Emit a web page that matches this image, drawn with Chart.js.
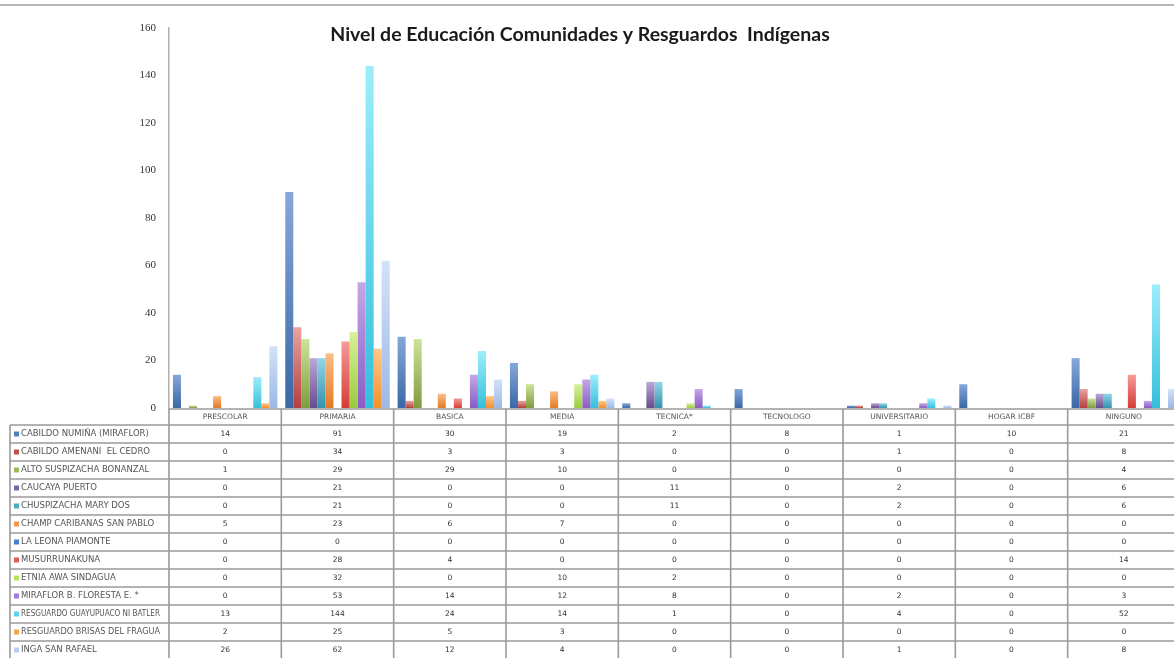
<!DOCTYPE html>
<html>
<head>
<meta charset="utf-8">
<script src="https://cdn.jsdelivr.net/npm/chart.js@4.4.1/dist/chart.umd.min.js"></script>
<style>
html,body{margin:0;padding:0;background:#fff;overflow:hidden;}
#wrap{position:absolute;left:0;top:0;width:1180px;height:658px;}
</style>
</head>
<body>
<div id="wrap"><canvas id="c" width="1180" height="658"></canvas></div>
<script>
// ---- data ----
const categories = ["PRESCOLAR","PRIMARIA","BASICA","MEDIA","TECNICA*","TECNOLOGO","UNIVERSITARIO","HOGAR ICBF","NINGUNO"];
const seriesNames = [
  "CABILDO NUMIÑA (MIRAFLOR)",
  "CABILDO AMENANI  EL CEDRO",
  "ALTO SUSPIZACHA BONANZAL",
  "CAUCAYA PUERTO",
  "CHUSPIZACHA MARY DOS",
  "CHAMP CARIBANAS SAN PABLO",
  "LA LEONA PIAMONTE",
  "MUSURRUNAKUNA",
  "ETNIA AWA SINDAGUA",
  "MIRAFLOR B. FLORESTA E. *",
  "RESGUARDO GUAYUPUACO NI BATLER",
  "RESGUARDO BRISAS DEL FRAGUA",
  "INGA SAN RAFAEL"
];
const cabildoMiraflor   = [14, 91, 30, 19, 2, 8, 1, 10, 21];
const cabildoElCedro    = [0, 34, 3, 3, 0, 0, 1, 0, 8];
const altoSuspizacha    = [1, 29, 29, 10, 0, 0, 0, 0, 4];
const caucayaPuerto     = [0, 21, 0, 0, 11, 0, 2, 0, 6];
const chuspizacha       = [0, 21, 0, 0, 11, 0, 2, 0, 6];
const champCaribanas    = [5, 23, 6, 7, 0, 0, 0, 0, 0];
const laLeona           = [0, 0, 0, 0, 0, 0, 0, 0, 0];
const musurrunakuna     = [0, 28, 4, 0, 0, 0, 0, 0, 14];
const etniaAwa          = [0, 32, 0, 10, 2, 0, 0, 0, 0];
const mirafloRFloresta  = [0, 53, 14, 12, 8, 0, 2, 0, 3];
const guayupuaco        = [13, 144, 24, 14, 1, 0, 4, 0, 52];
const brisasFragua      = [2, 25, 5, 3, 0, 0, 0, 0, 0];
const ingaSanRafael     = [26, 62, 12, 4, 0, 0, 1, 0, 8];
const yTicks = [0, 20, 40, 60, 80, 100, 120, 140, 160];
const chartTitle = "Nivel de Educación Comunidades y Resguardos  Indígenas";

const seriesValues = [cabildoMiraflor, cabildoElCedro, altoSuspizacha, caucayaPuerto, chuspizacha,
  champCaribanas, laLeona, musurrunakuna, etniaAwa, mirafloRFloresta, guayupuaco, brisasFragua, ingaSanRafael];

// ---- styles ----
const palette = [
  ["#86a8da","#3a67a6","#4F81BD"],
  ["#eba3a1","#b23f3b","#C0504D"],
  ["#cde39a","#7e9c3f","#9BBB59"],
  ["#bba9d6","#654c8c","#8064A2"],
  ["#92d6e8","#3592ad","#4BACC6"],
  ["#fbbd85","#e27a24","#F79646"],
  ["#7fa6e0","#3a6cc0","#4a7fd0"],
  ["#f59a98","#d63c38","#e45a57"],
  ["#d8f19a","#99cc3f","#b5e35a"],
  ["#c4a8e6","#8a5cc4","#a07ad8"],
  ["#9ceefc","#36bedb","#5fd4ef"],
  ["#ffc78a","#f5902c","#f9a04a"],
  ["#d3e2f8","#9cb9e6","#b7cdf2"]
];

function gradFor(idx){
  return function(ctx){
    const chart = ctx.chart;
    const base = palette[idx][2];
    if (!chart.chartArea || ctx.type !== 'data' || !chart.scales.y) return base;
    const v = ctx.raw || 0;
    const top = chart.scales.y.getPixelForValue(v);
    const bottom = chart.scales.y.getPixelForValue(0);
    if (bottom - top < 1) return base;
    const g = chart.ctx.createLinearGradient(0, top, 0, bottom);
    g.addColorStop(0, palette[idx][0]);
    g.addColorStop(1, palette[idx][1]);
    return g;
  };
}

const datasets = seriesValues.map((vals, i) => ({
  label: seriesNames[i],
  data: vals,
  backgroundColor: gradFor(i),
  borderWidth: 0,
  categoryPercentage: 0.93,
  barPercentage: 1.0
}));

const TABLE_TOP = 409, HEADER_H = 16, ROW_H = 18, LEFT_X = 10;

const decorPlugin = {
  id: 'decor',
  afterDraw(chart){
    const ctx = chart.ctx;
    const x = chart.scales.x;
    const area = chart.chartArea;
    const colW = (area.right - area.left) / categories.length;
    ctx.save();
    // top rule
    ctx.strokeStyle = '#b8b8b8';
    ctx.lineWidth = 2;
    ctx.beginPath(); ctx.moveTo(0, 5); ctx.lineTo(chart.width, 5); ctx.stroke();

    // title
    ctx.fillStyle = '#1a1a1a';
    ctx.font = 'bold 19.5px Lato, "Open Sans", sans-serif';
    ctx.textAlign = 'center';
    ctx.textBaseline = 'middle';
    ctx.fillText(chartTitle, 580, 35);

    // table lines
    const nRows = seriesNames.length;
    const rowTop0 = TABLE_TOP + HEADER_H;
    const bottomY = rowTop0 + nRows * ROW_H;
    ctx.strokeStyle = '#9a9a9a';
    ctx.lineWidth = 1.6;
    ctx.beginPath();
    ctx.moveTo(area.left, TABLE_TOP); ctx.lineTo(chart.width, TABLE_TOP);
    for (let r = 0; r <= nRows; r++) {
      const yy = rowTop0 + r * ROW_H;
      ctx.moveTo(LEFT_X, yy); ctx.lineTo(chart.width, yy);
    }
    ctx.moveTo(LEFT_X, rowTop0); ctx.lineTo(LEFT_X, bottomY);
    for (let k = 0; k <= categories.length; k++) {
      const xx = area.left + k * colW;
      ctx.moveTo(xx, TABLE_TOP); ctx.lineTo(xx, bottomY);
    }
    ctx.stroke();

    // header labels
    ctx.fillStyle = '#555';
    ctx.font = '7.5px "DejaVu Sans", sans-serif';
    ctx.textAlign = 'center';
    ctx.textBaseline = 'middle';
    categories.forEach((c, k) => {
      ctx.fillText(c, x.getPixelForValue(k), TABLE_TOP + HEADER_H / 2);
    });

    // rows
    seriesNames.forEach((name, r) => {
      const cy = rowTop0 + r * ROW_H + ROW_H / 2;
      ctx.fillStyle = palette[r][2];
      ctx.fillRect(LEFT_X + 4, cy - 2.5, 5, 5);
      ctx.fillStyle = '#555';
      ctx.font = '8.5px "DejaVu Sans", sans-serif';
      ctx.textAlign = 'left';
      ctx.fillText(name, LEFT_X + 11, cy, area.left - LEFT_X - 20);
      ctx.fillStyle = '#333';
      ctx.font = '7.5px "DejaVu Sans", sans-serif';
      ctx.textAlign = 'center';
      seriesValues[r].forEach((v, k) => {
        ctx.fillText(String(v), x.getPixelForValue(k), cy);
      });
    });
    ctx.restore();
  }
};

new Chart(document.getElementById('c'), {
  type: 'bar',
  data: { labels: categories, datasets },
  options: {
    responsive: false,
    animation: false,
    devicePixelRatio: 1,
    layout: { padding: { top: 28, bottom: 250, left: 0, right: 0 } },
    plugins: { legend: { display: false }, title: { display: false }, tooltip: { enabled: false } },
    scales: {
      x: { display: false, grid: { display: false } },
      y: {
        min: 0, max: 160,
        afterBuildTicks(scale){ scale.ticks = yTicks.map(v => ({ value: v })); },
        afterFit(scale){ scale.width = 169; },
        grid: { display: false, drawTicks: false },
        border: { display: true, color: '#b0b0b0', width: 1.5 },
        ticks: { padding: 13, color: '#333', font: { family: '"Liberation Serif", serif', size: 11 } }
      }
    }
  },
  plugins: [decorPlugin]
});
</script>
</body>
</html>
